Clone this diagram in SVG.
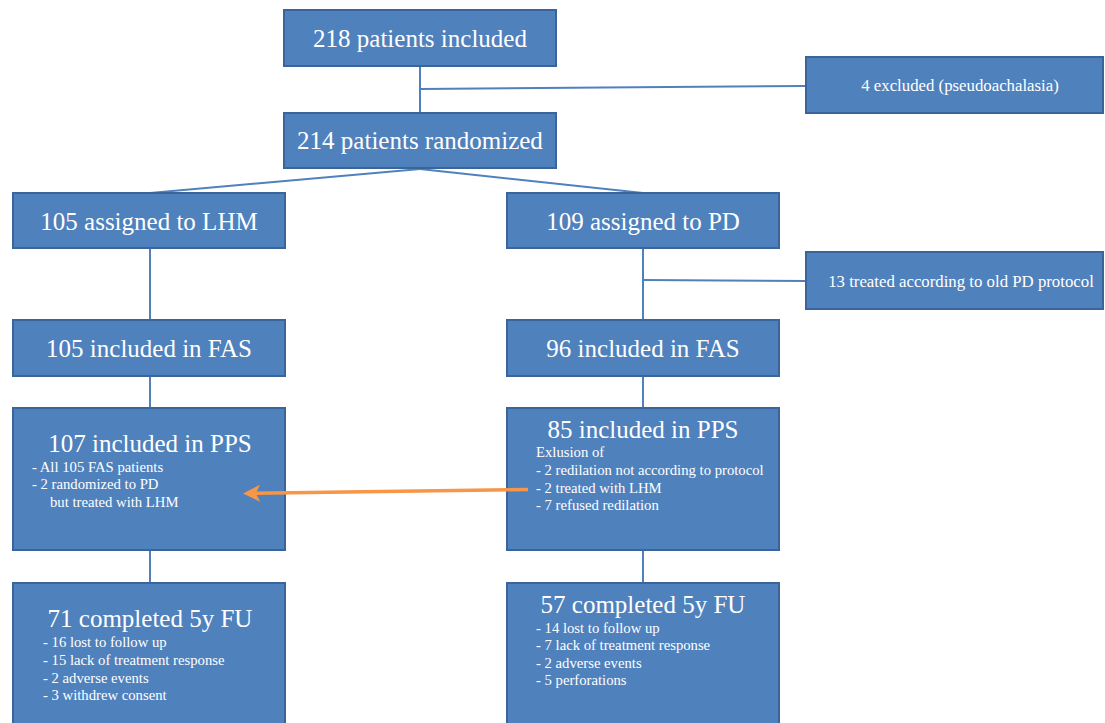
<svg xmlns="http://www.w3.org/2000/svg" width="1105" height="723" viewBox="0 0 1105 723" font-family="'Liberation Serif', 'Times New Roman', serif">
<style>
.box{fill:#4F81BD;stroke:#3A659A;stroke-width:2}
text{font-family:'Liberation Serif','Times New Roman',serif;fill:#FFFFFF}
.big{font-size:25px;text-anchor:middle}
.mid{font-size:16.8px;text-anchor:middle}
.sm{font-size:14.7px}
.c{fill:none;stroke:#4F81BD;stroke-width:2}
</style>
<defs>
<marker id="ah" viewBox="0 0 10 10" refX="3" refY="5" markerWidth="4.9" markerHeight="4.9" orient="auto" markerUnits="strokeWidth">
<path d="M0,0 L10,5 L0,10 L2.5,5 Z" fill="#F79646"/>
</marker>
</defs>
<rect width="1105" height="723" fill="#FFFFFF"/>
<g id="connectors">
<line class="c" x1="420" y1="66" x2="420" y2="113"/>
<line class="c" x1="420" y1="89" x2="806" y2="86"/>
<line class="c" x1="420" y1="169" x2="150" y2="193"/>
<line class="c" x1="420" y1="169" x2="643" y2="193"/>
<line class="c" x1="150" y1="248" x2="150" y2="320"/>
<line class="c" x1="643" y1="248" x2="643" y2="320"/>
<line class="c" x1="643" y1="280" x2="806" y2="281"/>
<line class="c" x1="150" y1="376" x2="150" y2="408"/>
<line class="c" x1="643" y1="376" x2="643" y2="408"/>
<line class="c" x1="150" y1="550" x2="150" y2="583"/>
<line class="c" x1="643" y1="550" x2="643" y2="583"/>
</g>
<g id="n218">
<rect class="box" x="284" y="10" width="272" height="56"/>
<text class="big" x="420" y="47">218 patients included</text>
</g>
<g id="nexcl">
<rect class="box" x="806" y="57" width="297" height="56"/>
<text class="mid" x="960" y="91">4 excluded (pseudoachalasia)</text>
</g>
<g id="n214">
<rect class="box" x="284" y="113" width="272" height="55"/>
<text class="big" x="420" y="149">214 patients randomized</text>
</g>
<g id="nLHM">
<rect class="box" x="13" y="193" width="272" height="55"/>
<text class="big" x="149" y="230">105 assigned to LHM</text>
</g>
<g id="nPD">
<rect class="box" x="507" y="193" width="272" height="55"/>
<text class="big" x="643" y="230">109 assigned to PD</text>
</g>
<g id="nold">
<rect class="box" x="806" y="252" width="297" height="57"/>
<text class="mid" x="961" y="287">13 treated according to old PD protocol</text>
</g>
<g id="nFASL">
<rect class="box" x="13" y="320" width="272" height="56"/>
<text class="big" x="149" y="357">105 included in FAS</text>
</g>
<g id="nFASP">
<rect class="box" x="507" y="320" width="272" height="56"/>
<text class="big" x="643" y="357">96 included in FAS</text>
</g>
<g id="nPPSL">
<rect class="box" x="13" y="408" width="272" height="142"/>
<text class="big" x="150" y="452">107 included in PPS</text>
<text class="sm" x="32" y="472">- All 105 FAS patients</text>
<text class="sm" x="32" y="489">- 2 randomized to PD</text>
<text class="sm" x="50" y="507">but treated with LHM</text>
</g>
<g id="nPPSP">
<rect class="box" x="507" y="408" width="272" height="142"/>
<text class="big" x="643" y="438">85 included in PPS</text>
<text class="sm" x="536" y="457">Exlusion of</text>
<text class="sm" x="536" y="475">- 2 redilation not according to protocol</text>
<text class="sm" x="536" y="493">- 2 treated with LHM</text>
<text class="sm" x="536" y="510">- 7 refused redilation</text>
</g>
<g id="nFUL">
<rect class="box" x="13" y="583" width="272" height="150"/>
<text class="big" x="150" y="627">71 completed 5y FU</text>
<text class="sm" x="43" y="647">- 16 lost to follow up</text>
<text class="sm" x="43" y="665">- 15 lack of treatment response</text>
<text class="sm" x="43" y="683">- 2 adverse events</text>
<text class="sm" x="43" y="700">- 3 withdrew  consent</text>
</g>
<g id="nFUP">
<rect class="box" x="507" y="583" width="272" height="150"/>
<text class="big" x="643" y="613">57 completed 5y FU</text>
<text class="sm" x="536" y="633">- 14 lost to follow up</text>
<text class="sm" x="536" y="650">- 7 lack of treatment response</text>
<text class="sm" x="536" y="668">- 2 adverse events</text>
<text class="sm" x="536" y="685">- 5 perforations</text>
</g>
<g id="arrow-connector">
<line x1="528" y1="489.5" x2="255" y2="493.3" stroke="#F79646" stroke-width="3.5" marker-end="url(#ah)"/>
</g>
</svg>
